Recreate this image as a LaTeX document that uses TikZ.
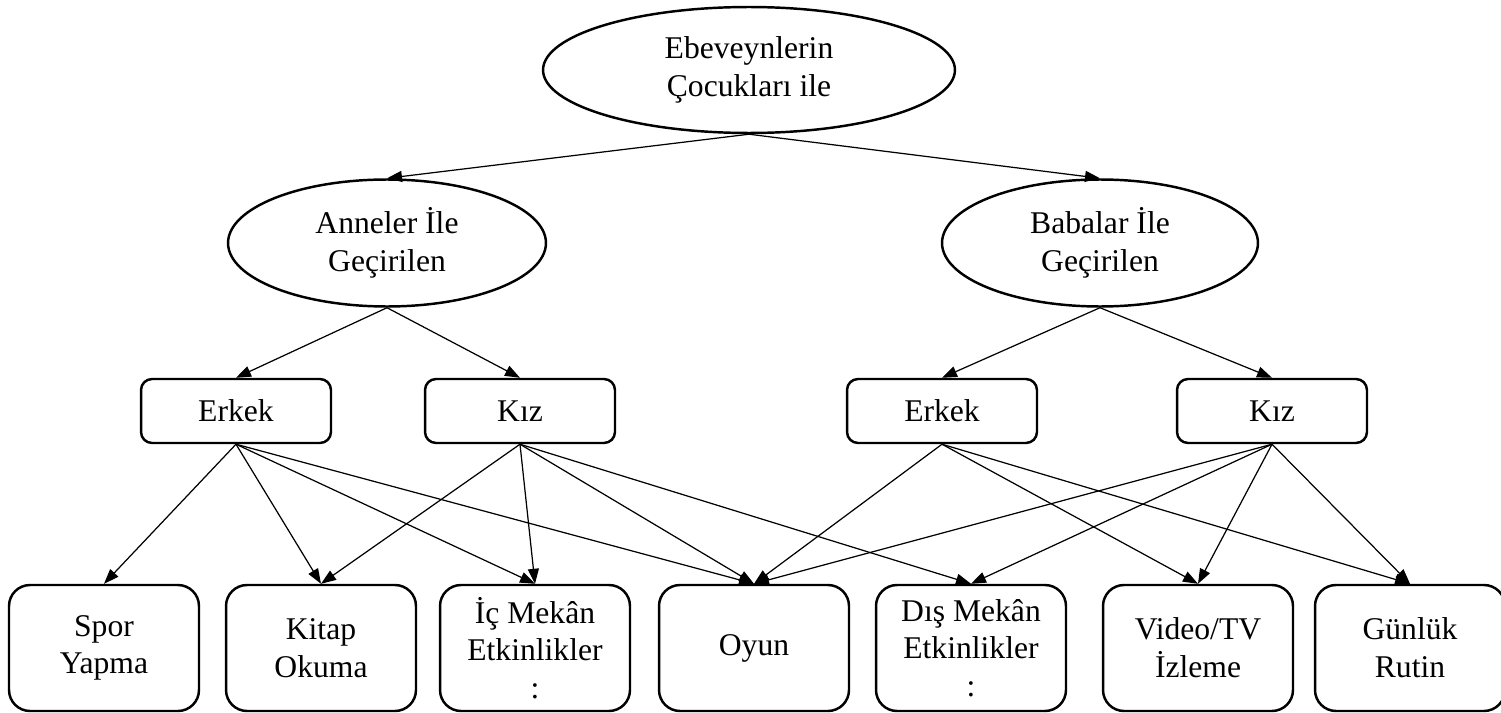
\documentclass[tikz,border=0pt]{standalone}
\usepackage{fontspec}
\setmainfont{Liberation Serif}
\usetikzlibrary{shapes.geometric,arrows.meta}
\begin{document}
\begin{tikzpicture}[x=0.02cm,y=-0.02cm,>={Triangle[length=0.3cm,width=0.22cm]},line join=round,
		font=\fontsize{18}{21.5}\selectfont,
		oval/.style={draw,ellipse,line width=1.4pt,inner sep=0pt,align=center},
		kutu/.style={draw,rounded corners=0.22cm,line width=1.4pt,minimum width=3.8cm,minimum height=1.28cm,inner sep=0pt,align=center},
		etkinlik/.style={draw,rounded corners=0.42cm,line width=1.4pt,minimum width=3.8cm,minimum height=2.52cm,inner sep=0pt,align=center},
		ok/.style={->,line width=0.7pt}]
			% Çerçeve
			\useasboundingbox (0,0) rectangle (1501,713);
			% Elipsler
			\node [oval,minimum width=8.24cm,minimum height=2.52cm] (ebeveyn) at (749,70) {Ebeveynlerin\\Çocukları ile};
			\node [oval,minimum width=6.36cm,minimum height=2.54cm] (anne) at (387,243) {Anneler İle\\Geçirilen};
			\node [oval,minimum width=6.32cm,minimum height=2.54cm] (baba) at (1100,243) {Babalar İle\\Geçirilen};
			% Cinsiyet
			\node [kutu] (erkekA) at (236,411) {Erkek};
			\node [kutu] (kizA) at (520,411) {Kız};
			\node [kutu] (erkekB) at (942,411) {Erkek};
			\node [kutu] (kizB) at (1272,411) {Kız};
			% Etkinlikler
			\node [etkinlik] (spor) at (104,648) {Spor\\Yapma};
			\node [etkinlik] (kitap) at (321,648) {Kitap\\Okuma};
			\node [etkinlik] (ic) at (535,648) {İç Mekân\\Etkinlikler\\:};
			\node [etkinlik] (oyun) at (754,648) {Oyun};
			\node [etkinlik] (dis) at (971,648) {Dış Mekân\\Etkinlikler\\:};
			\node [etkinlik] (video) at (1198,648) {Video/TV\\İzleme};
			\node [etkinlik] (rutin) at (1410,648) {Günlük\\Rutin};
			% Oklar
			\draw [ok] (ebeveyn.south)--(anne.north);
			\draw [ok] (ebeveyn.south)--(baba.north);
			\draw [ok] (anne.south)--(erkekA.north);
			\draw [ok] (anne.south)--(kizA.north);
			\draw [ok] (baba.south)--(erkekB.north);
			\draw [ok] (baba.south)--(kizB.north);
			\foreach \hedef in {spor,kitap,ic,oyun} \draw [ok] (erkekA.south)--(\hedef.north);
			\foreach \hedef in {kitap,ic,oyun,dis} \draw [ok] (kizA.south)--(\hedef.north);
			\foreach \hedef in {oyun,video,rutin} \draw [ok] (erkekB.south)--(\hedef.north);
			\foreach \hedef in {oyun,dis,video,rutin} \draw [ok] (kizB.south)--(\hedef.north);
		\end{tikzpicture}
\end{document}
